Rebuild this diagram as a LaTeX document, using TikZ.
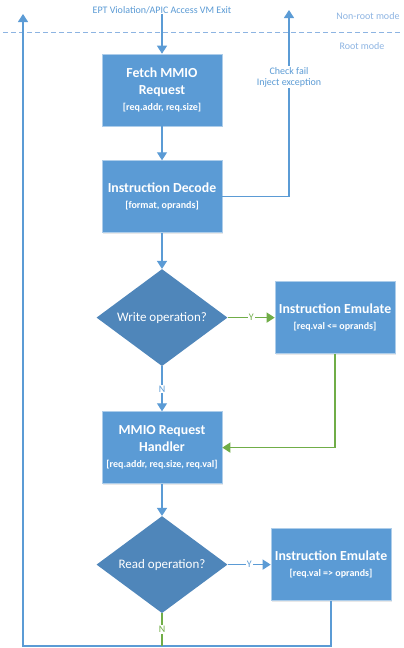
\documentclass[tikz,border=0pt]{standalone}
\usepackage{fontspec}
\setmainfont{Carlito}
\usepackage{tikz}
\usetikzlibrary{arrows.meta}
\usetikzlibrary{positioning}
\usetikzlibrary{shapes.geometric}
\usetikzlibrary{shadows}
\definecolor{boxblue}{HTML}{5B9BD5}
\definecolor{diablue}{HTML}{4F86BA}
\definecolor{lineblue}{HTML}{5B9BD5}
\definecolor{modeblue}{HTML}{8DB4E2}
\definecolor{yesgreen}{HTML}{70AD47}
\newcommand{\ptitle}[1]{\textbf{#1}}
\newcommand{\pargs}[1]{{\fontsize{10}{12}\selectfont\textbf{#1}}}

\begin{document}
\begin{tikzpicture}[
        x=1pt, y=-1pt,
        every node/.style={font=\fontsize{10}{12}\selectfont},
        proc/.style={rectangle,minimum width=120pt,minimum height=72pt,
                     fill=boxblue,draw=boxblue!50!white,line width=0.6pt,
                     text=white,align=center,inner sep=2pt,
                     font=\fontsize{13.8}{16.5}\selectfont,
                     drop shadow={opacity=0.18,shadow xshift=1.2pt,shadow yshift=-1.2pt}},
        decision/.style={diamond,aspect=1.35,minimum width=131pt,minimum height=97pt,
                     inner sep=0pt,fill=diablue,text=white,
                     font=\fontsize{13}{16}\selectfont},
        flow/.style={draw=lineblue,line width=1.2pt,-{Triangle[length=8pt,width=10pt]}},
        yesflow/.style={draw=yesgreen,line width=1.2pt,-{Triangle[length=8pt,width=10pt]}},
        noline/.style={draw=yesgreen,line width=1.2pt},
        note/.style={text=lineblue,fill=white,inner sep=1pt,align=center},
        mode/.style={text=modeblue,inner sep=1pt},
        node distance=34pt
      ]
      \useasboundingbox (0,0) rectangle (404,648);

      % Boundary between non-root and root mode
      \coordinate (dashL) at (3,32);
      \coordinate (dashR) at (400,32);
      \draw[modeblue,line width=0.9pt,dash pattern=on 5pt off 3pt] (dashL) -- (dashR);
      \node(nonroot)[mode] at (368,16) {Non-root mode};
      \node(root)[mode] at (362,46) {Root mode};

      % Main column: fetch -> decode -> write? -> handler -> read?
      \node(exit)[note,inner sep=0pt] at (162,10) {EPT Violation/APIC Access VM Exit};
      \node(fetch)[proc] at (162,90) {\ptitle{Fetch MMIO}\\\ptitle{Request}\\\pargs{[req.addr, req.size]}};
      \node(decode)[proc,below=34pt of fetch] {\ptitle{Instruction Decode}\\\pargs{[format, oprands]}};
      \node(write)[decision,below=36pt of decode] {Write operation?};
      \node(handler)[proc,below=45pt of write] {\ptitle{MMIO Request}\\\ptitle{Handler}\\\pargs{[req.addr, req.size, req.val]}};
      \node(read)[decision,below=32pt of handler] {Read operation?};

      % Side column: the two emulation boxes
      \node(emul1)[proc,right=47pt of write] {\ptitle{Instruction Emulate}\\\pargs{[req.val <= oprands]}};
      \node(emul2)[proc,right=43pt of read] {\ptitle{Instruction Emulate}\\\pargs{[req.val => oprands]}};

      % Exits back to non-root mode
      \coordinate (failup) at (289,10);
      \coordinate (loopbot) at (23,646);
      \coordinate (loopup) at (23,14);

      % Connectors
      \draw[flow] (exit) -- (fetch);
      \draw[flow] (fetch) -- (decode);
      \draw[flow] (decode.east) -| (failup);
      \node(fail)[note] at (289,77) {Check fail\\[-1pt]Inject exception};
      \draw[flow] (decode) -- (write);
      \draw[yesflow] (write) -- node[note,text=yesgreen]{Y} (emul1);
      \draw[yesflow] (emul1.south) |- (handler.east);
      \draw[flow] (write) -- node[note]{N} (handler);
      \draw[flow] (handler) -- (read);
      \draw[flow] (read) -- node[note]{Y} (emul2);
      \draw[flow] (emul2.south) |- (loopbot) -- (loopup);
      \draw[noline] (read.south) -- node[note,text=yesgreen]{N} (read.south |- loopbot);
    \end{tikzpicture}
\end{document}
